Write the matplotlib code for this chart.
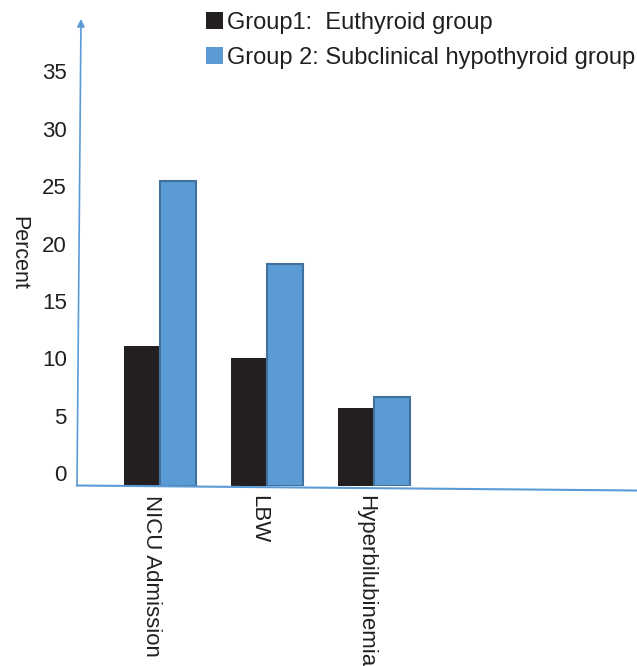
import matplotlib
matplotlib.use("Agg")
import matplotlib.pyplot as plt
import matplotlib.transforms as mtransforms
from matplotlib.patches import Patch
from matplotlib.lines import Line2D
import numpy as np

plt.rcParams['font.family'] = ['Liberation Sans', 'DejaVu Sans']

categories = ["NICU Admission", "LBW", "Hyperbilubinemia"]
euthyroid = [12.2, 11.15, 6.75]
subclinical = [26.5, 19.3, 7.7]
y_ticks = [0, 5, 10, 15, 20, 25, 30, 35]
legend_labels = ["Group1:  Euthyroid group", "Group 2: Subclinical hypothyroid group"]

TEXT = "#231f20"
BLACK = "#231f20"
BLUE = "#5b9bd5"
BLUE_EDGE = "#41719c"
AXIS = "#5b9bd5"

fig = plt.figure(figsize=(6.37, 6.66), dpi=100)
ax = fig.add_axes([78 / 637, 1 - 485.7 / 666, 1 - 78 / 637, 466.7 / 666])

x = np.arange(len(categories))
w = 0.336
ax.bar(x - w / 2, euthyroid, width=w, color=BLACK, linewidth=0)
ax.bar(x + w / 2, subclinical, width=w, color=BLUE, edgecolor=BLUE_EDGE, linewidth=1.5)

ax.set_xlim(-0.762, 4.46)
ax.set_ylim(0, 40.65)

for s in ax.spines.values():
    s.set_visible(False)

ax.set_yticks(y_ticks)
ax.set_yticklabels([str(t) for t in y_ticks])
ax.set_xticks(x)
ax.set_xticklabels(categories, rotation=270, va="top", ha="center")
ax.tick_params(axis="both", length=0, labelsize=16, labelcolor=TEXT)
ax.tick_params(axis="y", pad=8)
ax.tick_params(axis="x", pad=7)

# labels sit a bit above their gridline positions
up = mtransforms.ScaledTranslation(0, 12.4 / 100, fig.dpi_scale_trans)
for lab in ax.get_yticklabels():
    lab.set_transform(lab.get_transform() + up)
left = mtransforms.ScaledTranslation(-8 / 100, 0, fig.dpi_scale_trans)
for lab in ax.get_xticklabels():
    lab.set_transform(lab.get_transform() + left)

# hand-drawn looking axes
ax.annotate("", xy=(81 / 637, 1 - 19 / 666), xytext=(77 / 637, 1 - 485.5 / 666),
            xycoords="figure fraction", textcoords="figure fraction",
            arrowprops=dict(arrowstyle="-|>", color=AXIS, lw=1.2,
                            mutation_scale=11, shrinkA=0, shrinkB=0))
fig.add_artist(Line2D([77 / 637, 1.0], [1 - 485.5 / 666, 1 - 490.5 / 666],
                      color=AXIS, lw=1.5, transform=fig.transFigure))

fig.text(19 / 637, 1 - 253 / 666, "Percent", rotation=270, ha="center", va="center",
         fontsize=15.5, color=TEXT)

handles = [Patch(facecolor=BLACK, edgecolor="none"), Patch(facecolor=BLUE, edgecolor="none")]
leg = fig.legend(handles, legend_labels, loc="upper left",
                 bbox_to_anchor=(206 / 637, 1 - 12 / 666), frameon=False,
                 fontsize=17, handlelength=0.72, handleheight=0.7,
                 handletextpad=0.15, labelspacing=0.55, borderpad=0, borderaxespad=0)
for t in leg.get_texts():
    t.set_color(TEXT)

fig.savefig("out.png", dpi=100)
